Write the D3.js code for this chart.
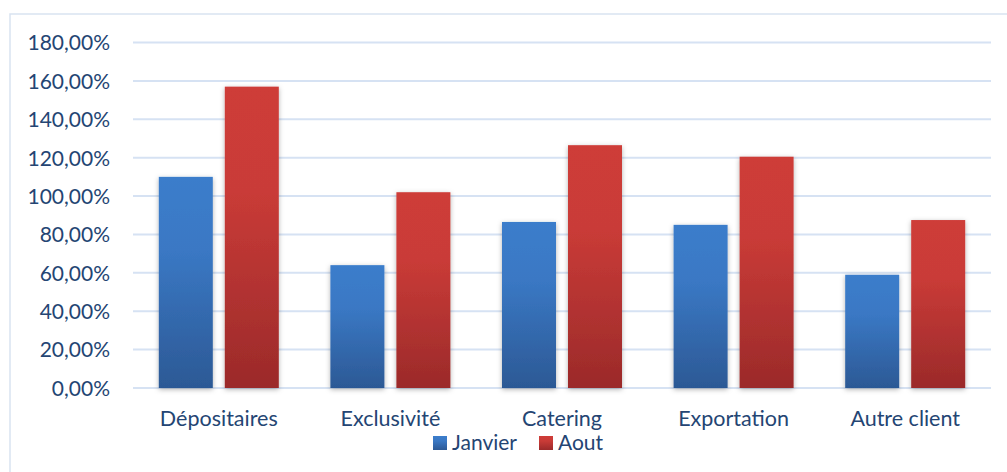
<!DOCTYPE html>
<html>
<head>
<meta charset="utf-8">
<script src="https://cdn.jsdelivr.net/npm/d3@7"></script>
<style>
  html, body { margin: 0; padding: 0; background: #fff; }
  svg { display: block; }
  svg text { font-family: Lato, "Open Sans", sans-serif; }
</style>
</head>
<body>
<svg id="chart" width="1007" height="472"></svg>
<script>
// Taux par catégorie de client, janvier vs août
const categories = ["Dépositaires", "Exclusivité", "Catering", "Exportation", "Autre client"];
const janvier = [110, 64, 86.5, 85, 59];
const aout = [157, 102, 126.5, 120.5, 87.5];
const seriesNames = ["Janvier", "Aout"];
const yTicks = [0, 20, 40, 60, 80, 100, 120, 140, 160, 180];

const W = 1007, H = 472;
const plotLeft = 133, plotRight = 991, plotTop = 42.5, plotBottom = 388;
const textColor = "#244573";

const svg = d3.select("#chart");
const defs = svg.append("defs");

const grads = [
  { id: "gJan", top: "#3B7DCB", mid: "#3A78C4", bottom: "#2C5995" },
  { id: "gAout", top: "#CE3C38", mid: "#C93B37", bottom: "#9B2A2A" }
];
grads.forEach(g => {
  const lg = defs.append("linearGradient").attr("id", g.id)
    .attr("x1", 0).attr("y1", 0).attr("x2", 0).attr("y2", 1);
  lg.append("stop").attr("offset", "0%").attr("stop-color", g.top);
  lg.append("stop").attr("offset", "35%").attr("stop-color", g.mid);
  lg.append("stop").attr("offset", "100%").attr("stop-color", g.bottom);
});

const shadow = defs.append("filter").attr("id", "barShadow")
  .attr("x", "-30%").attr("y", "-10%").attr("width", "160%").attr("height", "130%");
shadow.append("feDropShadow").attr("dx", 0).attr("dy", 1.5)
  .attr("stdDeviation", 2.5).attr("flood-color", "#000").attr("flood-opacity", 0.3);

// frame
svg.append("rect").attr("x", 10).attr("y", 14).attr("width", W).attr("height", H)
  .attr("fill", "none").attr("stroke", "#D9E3F1").attr("stroke-width", 1.5);

const x0 = d3.scaleBand().domain(categories).range([plotLeft, plotRight]);
const outer = (x0.bandwidth() - 120) / 2;
const x1 = d3.scaleBand().domain(seriesNames)
  .range([outer, outer + 120]).paddingInner(12 / 66).paddingOuter(0);
const y = d3.scaleLinear().domain([0, 180]).range([plotBottom, plotTop]);

// grid
svg.append("g").selectAll("line").data(yTicks).join("line")
  .attr("x1", plotLeft).attr("x2", plotRight)
  .attr("y1", d => y(d)).attr("y2", d => y(d))
  .attr("stroke", "#D6E2F3").attr("stroke-width", 2);

// y axis labels
const fmt = v => v.toFixed(2).replace(".", ",") + "%";
const yAxis = d3.axisLeft(y).tickValues(yTicks).tickFormat(fmt).tickSize(0).tickPadding(0);
const yg = svg.append("g").attr("transform", `translate(110,0)`).call(yAxis)
  .attr("font-family", null).attr("font-size", null);
yg.select(".domain").remove();
yg.selectAll("text").attr("fill", textColor).style("font-size", "21px")
  .attr("dy", "0.35em");

// bars
const data = categories.map((c, i) => ({ cat: c, vals: [
  { s: "Janvier", v: janvier[i], g: "gJan" },
  { s: "Aout", v: aout[i], g: "gAout" }
]}));

const groups = svg.append("g").selectAll("g").data(data).join("g")
  .attr("transform", d => `translate(${x0(d.cat)},0)`);
groups.selectAll("rect").data(d => d.vals).join("rect")
  .attr("x", d => x1(d.s)).attr("width", x1.bandwidth())
  .attr("y", d => y(d.v)).attr("height", d => y(0) - y(d.v))
  .attr("fill", d => `url(#${d.g})`).attr("filter", "url(#barShadow)");

// x axis labels
const xAxis = d3.axisBottom(x0).tickSize(0).tickPadding(0);
const xg = svg.append("g").attr("transform", `translate(0,418)`).call(xAxis)
  .attr("font-family", null).attr("font-size", null);
xg.select(".domain").remove();
xg.selectAll("text").attr("fill", textColor).style("font-size", "21.5px")
  .attr("dy", "0.35em").attr("y", 0);

// legend
const legend = svg.append("g").attr("transform", "translate(433,443)");
const legItems = [
  { name: "Janvier", g: "gJan", x: 0 },
  { name: "Aout", g: "gAout", x: 106 }
];
const li = legend.selectAll("g").data(legItems).join("g")
  .attr("transform", d => `translate(${d.x},0)`);
li.append("rect").attr("x", 0).attr("y", -7).attr("width", 14).attr("height", 14)
  .attr("fill", d => `url(#${d.g})`);
li.append("text").attr("x", 19).attr("y", 0).attr("dy", "0.35em")
  .attr("fill", textColor).style("font-size", "21px").text(d => d.name);
</script>
</body>
</html>
